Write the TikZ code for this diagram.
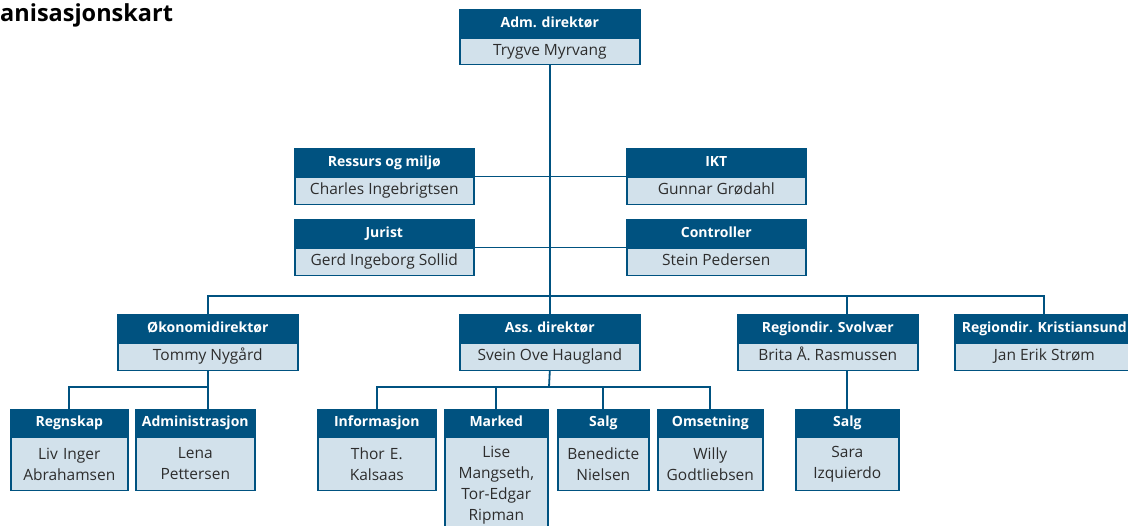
\documentclass[tikz,border=0pt]{standalone}
\usepackage{fontspec}
\setmainfont{Open Sans}
\definecolor{dblue}{RGB}{0,82,128}
\definecolor{lblue}{RGB}{210,225,235}
\definecolor{txtc}{RGB}{45,45,45}
\newcommand\bfnt{\fontsize{15.5}{21}\selectfont}
\newcommand\hfnt{\bfseries\fontsize{14}{17}\selectfont}
\newcommand\tfnt{\bfseries\fontsize{23.5}{27}\selectfont}
\tikzset{
  hdr/.style={draw=dblue, fill=dblue, line width=1.6pt, text=white, font=\hfnt,
    inner sep=0pt, anchor=north west, minimum height=27pt,
    text height=10.5pt, text depth=3pt},
  bdy/.style={draw=dblue, fill=lblue, line width=1.6pt, text=txtc, font=\bfnt,
    inner sep=0pt, anchor=north, align=center},
  one/.style={minimum height=27pt, text height=11pt, text depth=3.5pt},
  conn/.style={draw=dblue, line width=1.8pt}
}
\begin{document}
\begin{tikzpicture}[x=1pt,y=-1pt]
\useasboundingbox (0,0) rectangle (1128,526);
\clip (0,0) rectangle (1128,526);
\fill[white] (0,0) rectangle (1128,526);
\node[anchor=base west, inner sep=0pt, font=\tfnt] (title) at (0,22) {anisasjonskart};
% top
\node[hdr, minimum width=180pt] (adm) at (459,9) {Adm. direktør};
\node[bdy, one, minimum width=180pt, minimum height=26pt] (admb) at (adm.south) {Trygve Myrvang};
% staff
\node[hdr, minimum width=179pt] (res) at (294,148) {Ressurs og miljø};
\node[bdy, one, minimum width=179pt] (resb) at (res.south) {Charles Ingebrigtsen};
\node[hdr, minimum width=179pt] (ikt) at (626,148) {IKT};
\node[bdy, one, minimum width=179pt] (iktb) at (ikt.south) {Gunnar Grødahl};
\node[hdr, minimum width=179pt] (jur) at (294,219) {Jurist};
\node[bdy, one, minimum width=179pt] (jurb) at (jur.south) {Gerd Ingeborg Sollid};
\node[hdr, minimum width=179pt] (con) at (626,219) {Controller};
\node[bdy, one, minimum width=179pt] (conb) at (con.south) {Stein Pedersen};
% row 2
\node[hdr, minimum width=180pt] (oko) at (117,314) {Økonomidirektør};
\node[bdy, one, minimum width=180pt] (okob) at (oko.south) {Tommy Nygård};
\node[hdr, minimum width=180pt] (ass) at (459,314) {Ass. direktør};
\node[bdy, one, minimum width=180pt] (assb) at (ass.south) {Svein Ove Haugland};
\node[hdr, minimum width=180pt] (svo) at (737,314) {Regiondir. Svolvær};
\node[bdy, one, minimum width=180pt] (svob) at (svo.south) {Brita Å. Rasmussen};
\node[hdr, minimum width=179pt] (kri) at (954,314) {Regiondir. Kristiansund};
\node[bdy, one, minimum width=179pt] (krib) at (kri.south) {Jan Erik Strøm};
% row 3
\tikzset{hdr/.append style={minimum height=26pt}}
\node[hdr, minimum width=117pt] (regn) at (10,409) {Regnskap};
\node[bdy, minimum width=117pt, text width=117pt, minimum height=53pt] (regnb) at (regn.south) {Liv Inger\\Abrahamsen};
\node[hdr, minimum width=119pt] (admi) at (135,409) {Administrasjon};
\node[bdy, minimum width=119pt, text width=119pt, minimum height=53pt] (admib) at (admi.south) {Lena\\Pettersen};
\node[hdr, minimum width=118pt] (info) at (317,409) {Informasjon};
\node[bdy, minimum width=118pt, text width=118pt, minimum height=53pt] (infob) at (info.south) {Thor E.\\Kalsaas};
\node[hdr, minimum width=103pt] (mark) at (444,409) {Marked};
\node[bdy, minimum width=103pt, text width=103pt, minimum height=95pt] (markb) at (mark.south) {Lise\\Mangseth,\\Tor-Edgar\\Ripman};
\node[hdr, minimum width=91pt] (salg) at (557,409) {Salg};
\node[bdy, minimum width=91pt, text width=91pt, minimum height=53pt] (salgb) at (salg.south) {Benedicte\\Nielsen};
\node[hdr, minimum width=105pt] (oms) at (657,409) {Omsetning};
\node[bdy, minimum width=105pt, text width=105pt, minimum height=53pt] (omsb) at (oms.south) {Willy\\Godtliebsen};
\node[hdr, minimum width=103pt] (salgs) at (795,409) {Salg};
\node[bdy, minimum width=103pt, text width=103pt, minimum height=53pt] (salgsb) at (salgs.south) {Sara\\Izquierdo};
% connectors
\coordinate (bar) at (549,296);
\coordinate (okosplit) at (207,387);
\coordinate (asssplit) at (549,387);
\draw[conn] (admb.south) -- (ass.north);
\draw[conn] (res.south east) -- (ikt.south west);
\draw[conn] (jur.south east) -- (con.south west);
\draw[conn] (oko.north) |- (bar) -| (kri.north);
\draw[conn] (salgs.north |- bar) -- (salgs.north |- svo.north);
\draw[conn] (salgs.north |- svob.south) -- (salgs.north);
\draw[conn] (okob.south) -- (admi.north -| okob.south);
\draw[conn] (regn.north) |- (okosplit);
\draw[conn] (assb.south) -- (asssplit);
\draw[conn] (info.north) |- (asssplit) -| (oms.north);
\draw[conn] (mark.north) -- (mark.north |- asssplit);
\draw[conn] (salg.north) -- (salg.north |- asssplit);
\end{tikzpicture}
\end{document}
